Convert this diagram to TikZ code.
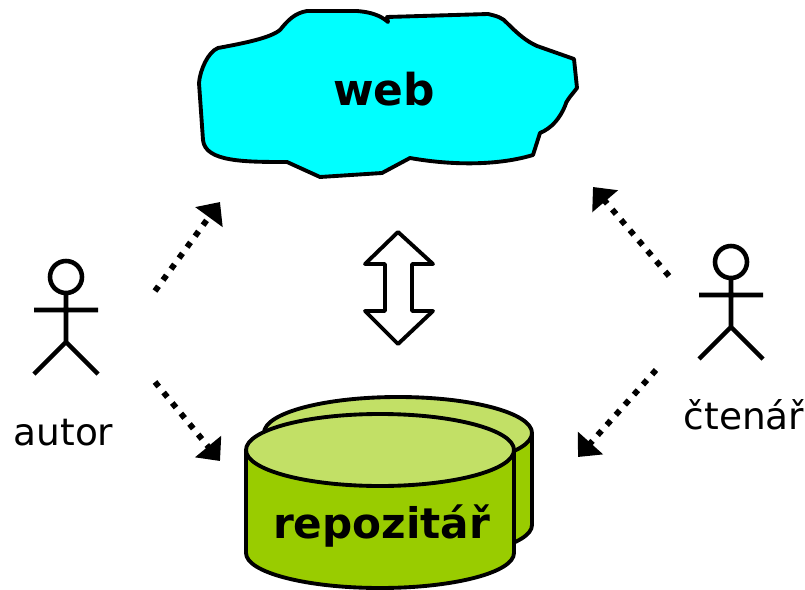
\documentclass[tikz,border=0pt]{standalone}
\usepackage{fontspec}
\setmainfont{DejaVu Sans}
\usetikzlibrary{arrows.meta}
\definecolor{webcyan}{HTML}{00FFFF}
\definecolor{repogreen}{HTML}{99CC00}
\definecolor{repolight}{HTML}{C2E066}
\begin{document}
\begin{tikzpicture}[
  x=0.03cm, y=-0.03cm,
  outline/.style={draw, line width=3.3pt, line join=round},
  title/.style={font=\fontsize{36}{36}\selectfont\bfseries, inner sep=0pt},
  person/.style={font=\fontsize{32}{32}\selectfont, inner sep=0pt},
  access/.style={-{Triangle[length=16pt,width=28pt]}, line width=5pt, dash pattern=on 5pt off 6.6pt},
  actor/.pic={
    \draw[line width=3.9pt] (0,0) circle (16);
    \draw[line width=3.9pt] (0,16) -- (0,65) (-32,33) -- (32,33) (-32,97) -- (0,65) -- (32,97);
  }
]
\useasboundingbox (0,0) rectangle (805,590);

\draw[outline, fill=webcyan] (218,48) .. controls (245,43) and (270,38) .. (280,30)
  .. controls (288,20) and (295,13) .. (307,11) -- (357,11)
  .. controls (370,12) and (380,15) .. (388,22) -- (387,17) -- (488,14)
  .. controls (497,16) and (503,18) .. (507,23) .. controls (518,34) and (526,41) .. (537,46)
  -- (574,59) -- (577,88) .. controls (570,97) and (566,101) .. (565,106)
  .. controls (560,118) and (552,128) .. (540,133) -- (533,155)
  .. controls (500,165) and (455,166) .. (410,158) -- (382,173) -- (320,177) -- (287,162)
  .. controls (245,162) and (205,162) .. (203,140) -- (199,83)
  .. controls (200,70) and (208,52) .. (218,48) -- cycle;
\node[title, font=\fontsize{37.5}{37.5}\selectfont\bfseries] (web) at (384,89) {web};

\draw[outline, fill=repogreen] (264,433) -- (264,525) arc[start angle=180, end angle=360, x radius=134, y radius=-35] -- (532,433);
\draw[outline, fill=repolight] (398,433) ellipse[x radius=134, y radius=36];
\draw[outline, fill=repogreen] (246,450) -- (246,553) arc[start angle=180, end angle=360, x radius=134, y radius=-35] -- (514,450);
\draw[outline, fill=repolight] (380,450) ellipse[x radius=134, y radius=36];
\node[title] (repo) at (381.5,526) {repozitář};

\draw[outline, fill=white] (398,232) -- (433,264) -- (412,264) -- (412,311) -- (433,311)
  -- (398,344) -- (365,311) -- (385,311) -- (385,264) -- (365,264) -- cycle;

\pic at (66,277) {actor};
\pic at (731,262) {actor};
\node[person] (autor) at (63.5,433) {autor};
\node[person] (ctenar) at (744,415) {čtenář};

\coordinate (autorup) at (155,291);
\coordinate (autordown) at (155,382);
\coordinate (ctenarup) at (669,276);
\coordinate (ctenardown) at (656,370);
\coordinate (webleft) at (220,202);
\coordinate (webright) at (593,187);
\coordinate (repoleft) at (220,461);
\coordinate (reporight) at (578,457);

\draw[access] (autorup) -- (webleft);
\draw[access] (autordown) -- (repoleft);
\draw[access] (ctenarup) -- (webright);
\draw[access] (ctenardown) -- (reporight);
\end{tikzpicture}
\end{document}
